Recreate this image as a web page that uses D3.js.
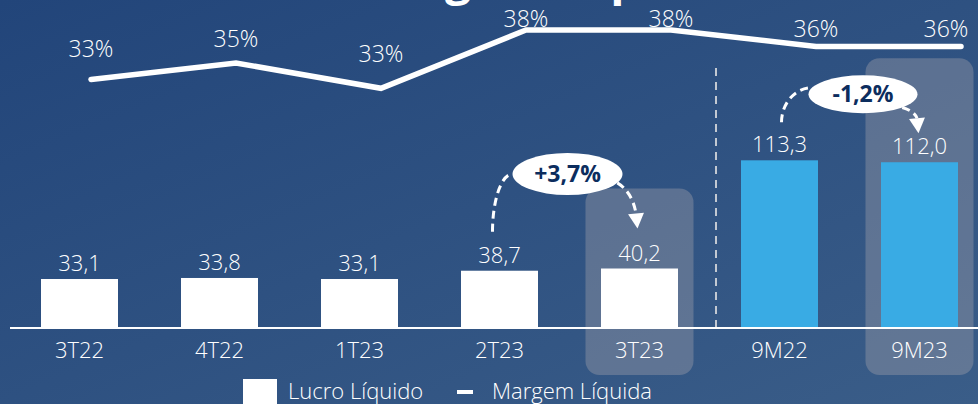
<!DOCTYPE html>
<html><head><meta charset="utf-8">
<script src="https://cdn.jsdelivr.net/npm/d3@7"></script>
<style>html,body{margin:0;padding:0;background:#2c4f7e;overflow:hidden}svg{display:block}</style>
</head><body><svg id="chart" width="978" height="404"></svg>
<script>
// ---- data ----
const categories = ["3T22","4T22","1T23","2T23","3T23","9M22","9M23"];
const lucroLiquido = [33.1, 33.8, 33.1, 38.7, 40.2, 113.3, 112.0];
const margemLiquida = [33.4, 34.9, 32.6, 37.9, 37.9, 36.4, 36.4];
const accumulatedCategories = ["9M22","9M23"];
const highlightedCategories = ["3T23","9M23"];
const variationFrom = ["2T23","9M22"];
const variationTo = ["3T23","9M23"];
const variationLabels = ["+3,7%","-1,2%"];
const legendLabels = ["Lucro Líquido","Margem Líquida"];
const titleText = "Lucro e Margem Líquida";

// ---- setup ----
const W = 978, H = 404;
const svg = d3.select("#chart");
const font = "'Open Sans', 'Noto Sans', sans-serif";
const lightW = 300;
const loc = d3.formatLocale({decimal: ",", thousands: ".", grouping: [3], currency: ["R$", ""]});
const fmt1 = loc.format(".1f");

const defs = svg.append("defs");
const grad = defs.append("linearGradient").attr("id","bg").attr("x1","0").attr("y1","0").attr("x2","1").attr("y2","1");
grad.append("stop").attr("offset","0").attr("stop-color","#22457a");
grad.append("stop").attr("offset","1").attr("stop-color","#3a5d88");
svg.append("rect").attr("width",W).attr("height",H).attr("fill","url(#bg)");

// scales
const baseY = 328;
const x = d3.scaleBand().domain(categories).range([9.5, 989.5]).paddingInner(0.45).paddingOuter(0.225);
const y = d3.scaleLinear().domain([0, 100]).range([baseY, baseY - 148]);
const xl = d3.scalePoint().domain(categories).range([91, 961]);
const yl = d3.scaleLinear().domain([30, 40]).range([116.9, 6.9]);
const yLab = d3.scaleLinear().domain([32.6, 37.9]).range([62, 27]);
const cx = c => x(c) + x.bandwidth() / 2;

// title (mostly cut off at top)
const title = svg.append("text").attr("y", -5).attr("font-family", font).attr("font-weight", 700)
  .attr("font-size", 46).attr("fill", "#fff").text(titleText);
const probe = svg.append("text").attr("font-family", font).attr("font-weight", 700).attr("font-size", 46)
  .attr("visibility","hidden").text("Lucro e Mar");
const pw = probe.node().getComputedTextLength(); probe.remove();
title.attr("x", 445 - pw);

// highlight boxes
const boxTopOffset = {"3T23": 80, "9M23": 104};
svg.append("g").selectAll("rect").data(highlightedCategories).join("rect")
  .attr("x", c => cx(c) - 54).attr("width", 108)
  .attr("y", c => y(lucroLiquido[categories.indexOf(c)]) - boxTopOffset[c])
  .attr("height", c => 375 - (y(lucroLiquido[categories.indexOf(c)]) - boxTopOffset[c]))
  .attr("rx", 14).attr("fill", "rgba(160,160,170,0.4)");

// separator
svg.append("line").attr("x1", 716).attr("x2", 716).attr("y1", 68).attr("y2", baseY)
  .attr("stroke", "#c3c9d2").attr("stroke-width", 2).attr("stroke-dasharray", "8,6");

// bars
svg.append("g").selectAll("rect").data(categories).join("rect")
  .attr("x", c => x(c)).attr("width", x.bandwidth())
  .attr("y", (c, i) => y(lucroLiquido[i])).attr("height", (c, i) => baseY - y(lucroLiquido[i]))
  .attr("fill", c => accumulatedCategories.includes(c) ? "#39abe4" : "#ffffff");

// axis line
svg.append("line").attr("x1", 10).attr("x2", W).attr("y1", baseY).attr("y2", baseY)
  .attr("stroke", "#fff").attr("stroke-width", 2);

// value labels
svg.append("g").selectAll("text").data(categories).join("text")
  .attr("x", c => cx(c)).attr("y", (c, i) => y(lucroLiquido[i]) - 8)
  .attr("text-anchor", "middle").attr("font-family", font).attr("font-weight", lightW).attr("font-size", 22).attr("fill", "#fff")
  .text((c, i) => fmt1(lucroLiquido[i]));

// category labels
svg.append("g").selectAll("text").data(categories).join("text")
  .attr("x", c => cx(c)).attr("y", 358)
  .attr("text-anchor", "middle").attr("font-family", font).attr("font-weight", lightW).attr("font-size", 22).attr("fill", "#fff")
  .text(c => c);

// margin line
const line = d3.line().x((d, i) => xl(categories[i])).y(d => yl(d));
svg.append("path").datum(margemLiquida).attr("d", line).attr("fill", "none")
  .attr("stroke", "#fff").attr("stroke-width", 5.5).attr("stroke-linecap", "round").attr("stroke-linejoin", "miter");
svg.append("g").selectAll("text").data(margemLiquida).join("text")
  .attr("x", (d, i) => Math.min(xl(categories[i]), 946)).attr("y", d => yLab(d))
  .attr("text-anchor", "middle").attr("font-family", font).attr("font-weight", lightW).attr("font-size", 23).attr("fill", "#fff")
  .text(d => Math.round(d) + "%");

// variation annotations
const annLayout = [
  {dx: -2, dy: 94.5, rx: 55, ry: 21, sdx: -7, sdy: 39, endAng: 180, startAng: 25, tdx: -2, tdy: 40},
  {dx: 13.5, dy: 66, rx: 54.5, ry: 19, sdx: 2, sdy: 38, endAng: 200, startAng: 44, tdx: -1, tdy: 29}
];
variationLabels.forEach((lab, k) => {
  const L = annLayout[k];
  const fi = categories.indexOf(variationFrom[k]), ti = categories.indexOf(variationTo[k]);
  const topF = y(lucroLiquido[fi]), topT = y(lucroLiquido[ti]);
  const ex = (cx(variationFrom[k]) + cx(variationTo[k])) / 2 + L.dx;
  const ey = Math.min(topF, topT) - L.dy;
  const g = svg.append("g");
  const sx = cx(variationFrom[k]) + L.sdx, sy = topF - L.sdy;
  const a1 = L.endAng * Math.PI / 180;
  const px = ex + L.rx * Math.cos(a1), py = ey + L.ry * Math.sin(a1);
  const p = d3.path();
  p.moveTo(sx, sy);
  p.bezierCurveTo(sx, sy - 0.55 * (sy - py), px - 0.55 * (px - sx), py, px, py);
  g.append("path").attr("d", p.toString()).attr("fill", "none").attr("stroke", "#fff")
    .attr("stroke-width", 3).attr("stroke-dasharray", "8,5");
  const a2 = L.startAng * Math.PI / 180;
  const qx = ex + L.rx * Math.cos(a2), qy = ey + L.ry * Math.sin(a2);
  const tipX = cx(variationTo[k]) + L.tdx, tipY = topT - L.tdy;
  const bx = tipX - 1.5, by = tipY - 15;
  const ctlx = bx - 0.2 * (bx - qx), ctly = qy + 0.3 * (by - qy);
  const p2 = d3.path();
  p2.moveTo(qx, qy); p2.quadraticCurveTo(ctlx, ctly, bx, by);
  g.append("path").attr("d", p2.toString()).attr("fill", "none").attr("stroke", "#fff")
    .attr("stroke-width", 3).attr("stroke-dasharray", "8,5");
  const ux = tipX - bx, uy = tipY - by, ul = Math.hypot(ux, uy);
  const nx = -uy / ul * 8, ny = ux / ul * 8;
  g.append("path").attr("d", `M${tipX},${tipY}L${bx + nx},${by + ny}L${bx - nx},${by - ny}Z`).attr("fill", "#fff");
  g.append("ellipse").attr("cx", ex).attr("cy", ey).attr("rx", L.rx).attr("ry", L.ry).attr("fill", "#fff");
  g.append("text").attr("x", ex).attr("y", ey + 8).attr("text-anchor", "middle")
    .attr("font-family", font).attr("font-weight", 700).attr("font-size", 23).attr("fill", "#0c2d5e").text(lab);
});

// legend
const lg = svg.append("g");
lg.append("rect").attr("x", 243).attr("y", 379).attr("width", 34).attr("height", 34).attr("fill", "#fff");
lg.append("text").attr("x", 288).attr("y", 399).attr("font-family", font).attr("font-weight", lightW).attr("font-size", 22).attr("fill", "#fff").text(legendLabels[0]);
lg.append("rect").attr("x", 457).attr("y", 390).attr("width", 16).attr("height", 4).attr("fill", "#fff");
lg.append("text").attr("x", 492).attr("y", 399).attr("font-family", font).attr("font-weight", lightW).attr("font-size", 22).attr("fill", "#fff").text(legendLabels[1]);
</script></body></html>
